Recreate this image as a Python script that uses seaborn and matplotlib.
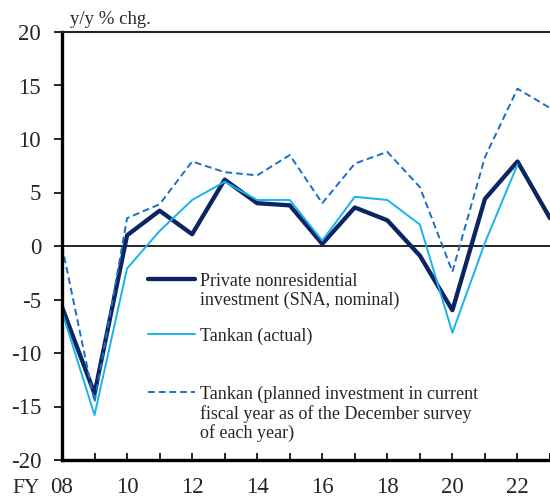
import numpy as np
import pandas as pd
import matplotlib
matplotlib.use("Agg")
import matplotlib.pyplot as plt
import seaborn as sns

# data (y/y % chg., fiscal years)
years = list(range(2008, 2024))
sna = [-5.7, -13.8, 1.0, 3.3, 1.1, 6.2, 4.0, 3.8, 0.2, 3.6, 2.4, -0.9, -6.0, 4.4, 7.9, 2.6]
tankan_actual = [-6.1, -15.8, -2.1, 1.4, 4.3, 6.0, 4.3, 4.3, 0.5, 4.6, 4.3, 2.0, -8.1, 0.3, 7.6, np.nan]
tankan_plan = [0.0, -14.6, 2.6, 3.9, 7.9, 6.9, 6.6, 8.5, 4.0, 7.7, 8.8, 5.5, -2.4, 8.3, 14.7, 12.9]

df = pd.DataFrame({"year": years, "sna": sna, "actual": tankan_actual, "plan": tankan_plan})

sns.set_style("ticks")
plt.rcParams["font.family"] = ["Liberation Serif", "DejaVu Serif"]
plt.rcParams["axes.unicode_minus"] = False
plt.rcParams["xtick.direction"] = "in"
plt.rcParams["ytick.direction"] = "out"

fig = plt.figure(figsize=(5.5, 5), dpi=100)
ax = fig.add_axes([62 / 550, 40 / 500, 488 / 550, 428 / 500])

navy = "#0c2461"
light = "#17b3ec"
mid = "#1a6fc2"

sns.lineplot(data=df, x="year", y="sna", ax=ax, color=navy, lw=3.1,
             label="Private nonresidential\ninvestment (SNA, nominal)")
sns.lineplot(data=df, x="year", y="actual", ax=ax, color=light, lw=1.4,
             label="Tankan (actual)")
sns.lineplot(data=df, x="year", y="plan", ax=ax, color=mid, lw=1.4, ls=(0, (3.5, 2)),
             label="Tankan (planned investment in current\nfiscal year as of the December survey\nof each year)")
ax.axhline(0, color="black", lw=1.2, zorder=1)

ax.set_xlim(2008, 2023)
ax.set_ylim(-20, 20)
ax.set_xticks(years)
ax.set_xticklabels([f"{y % 100:02d}" if y % 2 == 0 else "" for y in years])
ax.set_yticks(range(-20, 21, 5))
ax.tick_params(axis="x", length=5, width=1.2, labelsize=16.5, pad=12, color="black")
ax.tick_params(axis="y", length=6, width=1.2, labelsize=16.5, pad=9, color="black")
ax.set_xlabel("")
ax.set_ylabel("")

for s in ["left", "bottom"]:
    ax.spines[s].set_linewidth(2.4)
    ax.spines[s].set_color("black")
ax.spines["top"].set_linewidth(1.5)
ax.spines["top"].set_color("#222222")
ax.spines["right"].set_visible(False)

ax.text(0.016, 1.01, "y/y % chg.", transform=ax.transAxes, fontsize=13.5, va="bottom", ha="left")
ax.text(-0.102, -0.077, "FY", transform=ax.transAxes, fontsize=15.5, va="baseline", ha="left")

handles, labels = ax.get_legend_handles_labels()
ax.legend_.remove()


def top_align(leg):
    # put the handle next to the first line of a multi-line label
    for col in leg._legend_handle_box.get_children():
        for item in col.get_children():
            item.align = "top"
    for t in leg.get_texts():
        t.set_linespacing(1.1)


leg_kw = dict(loc="upper left", frameon=False, fontsize=13, handlelength=2.6,
              handletextpad=0.28, borderpad=0, borderaxespad=0)
leg1 = ax.legend(handles[:2], labels[:2], bbox_to_anchor=(0.176, 0.437),
                 labelspacing=1.05, **leg_kw)
top_align(leg1)
ax.add_artist(leg1)
leg2 = ax.legend(handles[2:], labels[2:], bbox_to_anchor=(0.176, 0.173), **leg_kw)
top_align(leg2)

fig.savefig("out.png", dpi=100)
